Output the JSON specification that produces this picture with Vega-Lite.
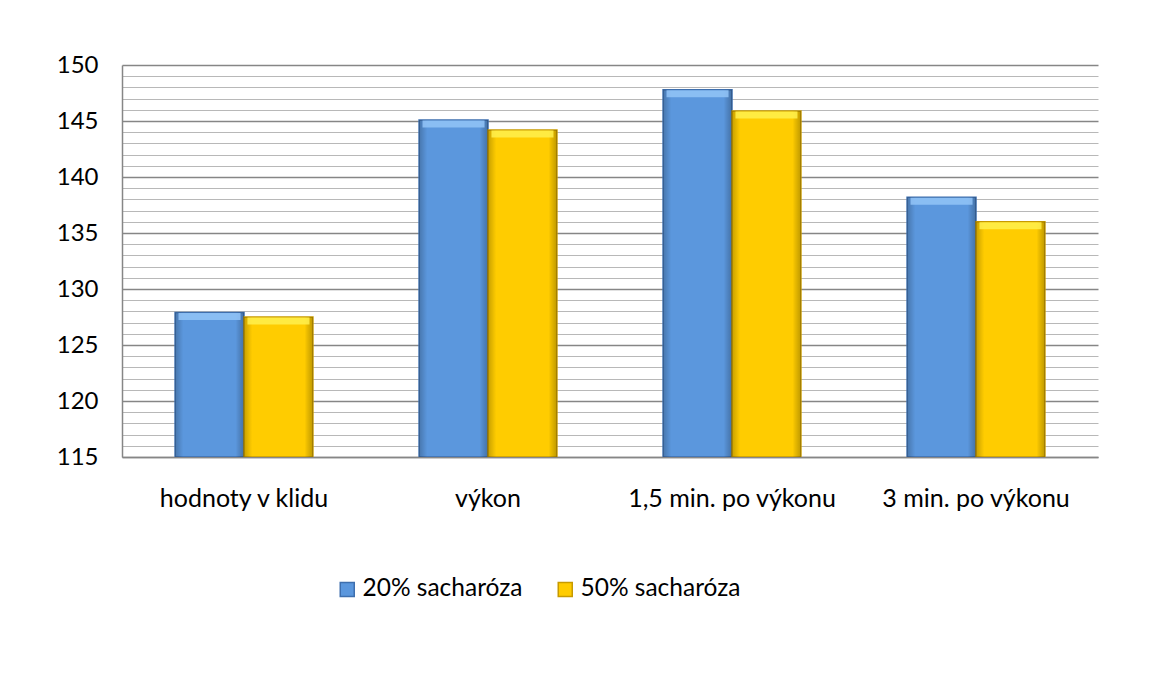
{
  "$schema": "https://vega.github.io/schema/vega-lite/v6.json",
  "autosize": "none",
  "width": 976,
  "height": 392,
  "padding": {"left": 122, "top": 65, "right": 68, "bottom": 225},
  "background": "white",
  "data": {
    "values": [
      {"stav": "hodnoty v klidu", "roztok": "20% sacharóza", "hodnota": 127.9},
      {"stav": "hodnoty v klidu", "roztok": "50% sacharóza", "hodnota": 127.5},
      {"stav": "výkon", "roztok": "20% sacharóza", "hodnota": 145.1},
      {"stav": "výkon", "roztok": "50% sacharóza", "hodnota": 144.2},
      {"stav": "1,5 min. po výkonu", "roztok": "20% sacharóza", "hodnota": 147.8},
      {"stav": "1,5 min. po výkonu", "roztok": "50% sacharóza", "hodnota": 145.9},
      {"stav": "3 min. po výkonu", "roztok": "20% sacharóza", "hodnota": 138.2},
      {"stav": "3 min. po výkonu", "roztok": "50% sacharóza", "hodnota": 136.0}
    ]
  },
  "encoding": {
    "x": {
      "field": "stav",
      "type": "nominal",
      "sort": null,
      "scale": {"paddingInner": 0.435, "paddingOuter": 0.2175},
      "axis": {
        "title": null,
        "labelAngle": 0,
        "labelFont": "Lato",
        "labelFontSize": 25,
        "labelColor": "#000000",
        "labelLimit": 0,
        "labelPadding": 29,
        "ticks": false,
        "domainColor": "#868686",
        "domainWidth": 1.5,
        "grid": false
      }
    },
    "xOffset": {"field": "roztok", "type": "nominal", "sort": null, "scale": {"paddingInner": 0, "paddingOuter": 0}},
    "y": {
      "field": "hodnota",
      "type": "quantitative",
      "scale": {"domain": [115, 150], "zero": false, "nice": false},
      "axis": {
        "title": null,
        "values": [115,116,117,118,119,120,121,122,123,124,125,126,127,128,129,130,131,132,133,134,135,136,137,138,139,140,141,142,143,144,145,146,147,148,149,150],
        "labelExpr": "datum.value % 5 === 0 ? datum.label : ''",
        "labelFont": "Lato",
        "labelFontSize": 24,
        "labelColor": "#000000",
        "labelPadding": 24,
        "ticks": false,
        "domainColor": "#868686",
        "domainWidth": 1.5,
        "grid": true,
        "gridColor": {"condition": {"test": "datum.value % 5 === 0", "value": "#868686"}, "value": "#b8b8b8"},
        "gridWidth": {"condition": {"test": "datum.value % 5 === 0", "value": 1.5}, "value": 1}
      }
    }
  },
  "layer": [
    {
      "mark": {"type": "bar", "strokeWidth": 1.5, "clip": true},
      "encoding": {
        "y2": {"datum": 115},
        "color": {
          "field": "roztok",
          "type": "nominal",
          "sort": null,
          "scale": {"domain": ["20% sacharóza", "50% sacharóza"], "range": ["#5b97dd", "#ffcc00"]},
          "legend": {
            "title": null,
            "orient": "none",
            "direction": "horizontal",
            "legendX": 213,
            "legendY": 512,
            "padding": 0,
            "symbolType": "square",
            "symbolSize": 196,
            "symbolStrokeWidth": 1.5,
            "symbolOpacity": 1,
            "labelFont": "Lato",
            "labelFontSize": 24.5,
            "labelColor": "#000000",
            "labelLimit": 0,
            "labelOffset": 3,
            "columnPadding": 30
          }
        },
        "stroke": {
          "field": "roztok",
          "type": "nominal",
          "sort": null,
          "scale": {"domain": ["20% sacharóza", "50% sacharóza"], "range": ["#3e6fae", "#c79a00"]},
          "legend": null
        }
      }
    },
    {
      "mark": {
        "type": "bar",
        "clip": true,
        "fill": {
          "gradient": "linear",
          "x1": 0, "y1": 0, "x2": 1, "y2": 0,
          "stops": [
            {"offset": 0, "color": "rgba(0,0,0,0.22)"},
            {"offset": 0.09, "color": "rgba(0,0,0,0.05)"},
            {"offset": 0.12, "color": "rgba(0,0,0,0)"},
            {"offset": 0.88, "color": "rgba(0,0,0,0)"},
            {"offset": 0.91, "color": "rgba(0,0,0,0.07)"},
            {"offset": 1, "color": "rgba(0,0,0,0.25)"}
          ]
        }
      },
      "encoding": {"y2": {"datum": 115}}
    },
    {
      "mark": {"type": "tick", "orient": "horizontal", "thickness": 7, "size": 62, "yOffset": 4, "opacity": 0.85, "clip": true},
      "encoding": {
        "fill": {
          "field": "roztok",
          "type": "nominal",
          "sort": null,
          "scale": {"domain": ["20% sacharóza", "50% sacharóza"], "range": ["#93c4f7", "#fff04d"]},
          "legend": null
        }
      }
    }
  ],
  "config": {
    "view": {"stroke": null}
  }
}
